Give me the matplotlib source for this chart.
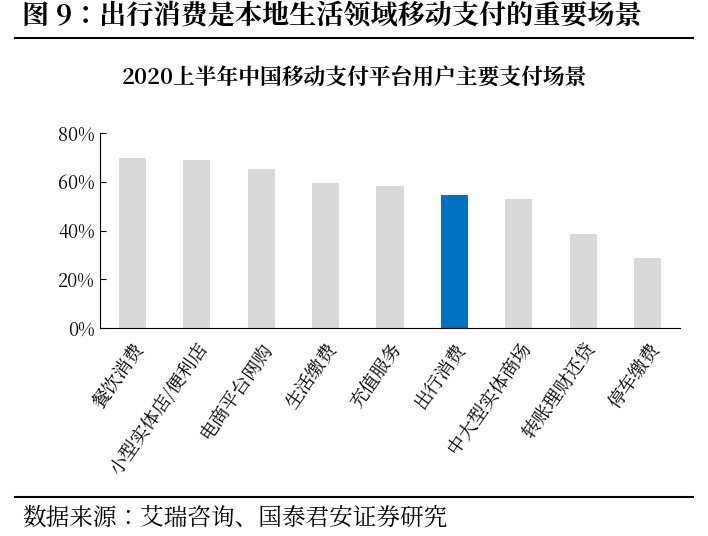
import matplotlib
matplotlib.use("Agg")
import matplotlib.pyplot as plt
from matplotlib.lines import Line2D
from matplotlib import font_manager as fm

cjk = [f.name for f in fm.fontManager.ttflist if "CJK" in f.name]
fam = "Noto Sans CJK SC" if "Noto Sans CJK SC" in cjk else (cjk[0] if cjk else "DejaVu Sans")
plt.rcParams["font.family"] = [fam, "DejaVu Sans"]

categories = ["餐饮消费", "小型实体店/便利店", "电商平台网购", "生活缴费", "充值服务",
              "出行消费", "中大型实体商场", "转账理财还贷", "停车缴费"]
values = [69.7, 68.9, 65.2, 59.5, 58.3, 54.6, 52.9, 38.6, 28.7]
highlight = "出行消费"
yticks = [0, 20, 40, 60, 80]

W, H = 708, 536
fig = plt.figure(figsize=(W/100, H/100), dpi=100)
ax = fig.add_axes([100/W, 1-328/H, 580/W, 195/H])
colors = ["#0070C0" if c == highlight else "#D9D9D9" for c in categories]
ax.bar(range(len(categories)), values, width=0.42, color=colors)
ax.set_ylim(0, 80)
ax.set_xlim(-0.5, len(categories)-0.5)
ax.set_yticks(yticks)
ax.set_yticklabels([f"{v}%" for v in yticks], fontsize=13)
ax.set_xticks(range(len(categories)))
ax.set_xticklabels(categories, rotation=55, ha="right", rotation_mode="anchor", fontsize=13.5)
for s in ["top", "right"]:
    ax.spines[s].set_visible(False)
ax.spines["left"].set_color("black")
ax.spines["bottom"].set_color("black")
ax.tick_params(axis="x", length=0, pad=8)
ax.tick_params(axis="y", direction="in", length=4)

fig.text(22/W, 1-17/H, "图 9：出行消费是本地生活领域移动支付的重要场景", fontsize=19.5,
         fontweight="bold", va="center", ha="left")
fig.add_artist(Line2D([15/W, 693/W], [1-38/H, 1-38/H], color="black", lw=1.5))
fig.text(0.5, 1-78/H, "2020上半年中国移动支付平台用户主要支付场景", fontsize=15.7,
         fontweight="bold", va="center", ha="center")
fig.add_artist(Line2D([15/W, 693/W], [1-497/H, 1-497/H], color="black", lw=1.5))
fig.text(22/W, 1-518/H, "数据来源：艾瑞咨询、国泰君安证券研究", fontsize=17,
         va="center", ha="left")
fig.savefig("out.png", dpi=100)
